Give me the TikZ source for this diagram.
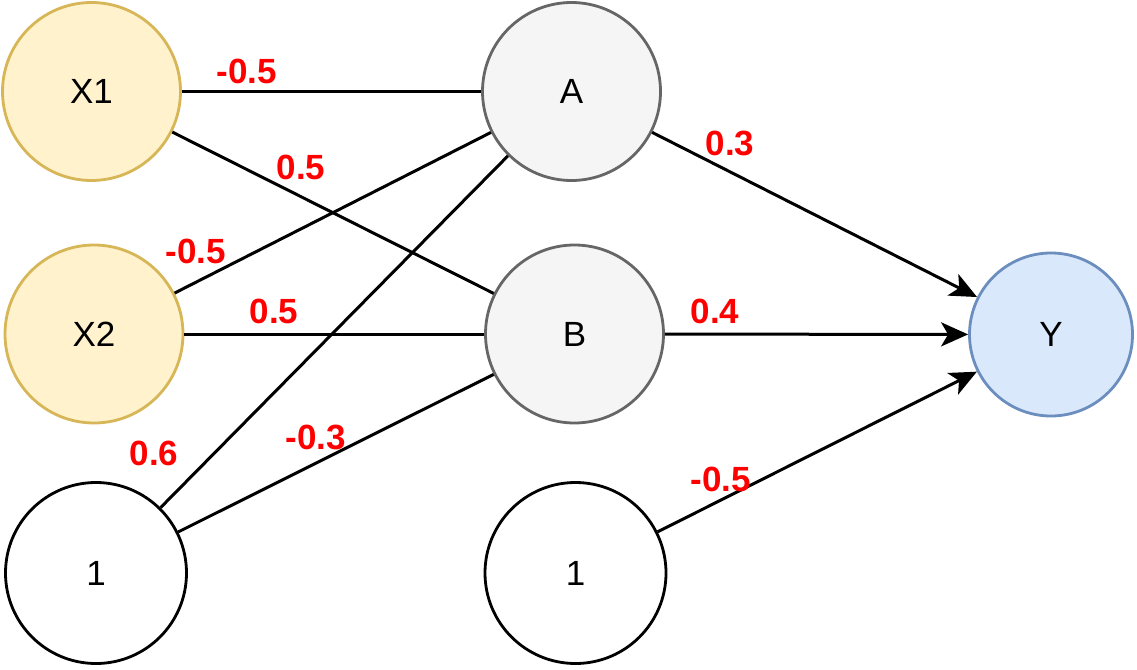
\documentclass[tikz,border=0pt]{standalone}
\usepackage{fontspec}
\setmainfont{Liberation Sans}
\usetikzlibrary{arrows.meta}
\definecolor{inFill}{HTML}{FFF2CC}
\definecolor{inLine}{HTML}{D6B656}
\definecolor{hidFill}{HTML}{F5F5F5}
\definecolor{hidLine}{HTML}{666666}
\definecolor{outFill}{HTML}{DAE8FC}
\definecolor{outLine}{HTML}{6C8EBF}
\definecolor{weightRed}{HTML}{FF0000}
\begin{document}
\begin{tikzpicture}[x=1pt,y=-1pt,
  neuron/.style={circle, draw, line width=2.8pt, inner sep=0pt,
    font=\fontsize{35}{42}\selectfont},
  inputn/.style={neuron, fill=inFill, draw=inLine, minimum size=178pt},
  hiddenn/.style={neuron, fill=hidFill, draw=hidLine, minimum size=178pt},
  biasn/.style={neuron, fill=white, draw=black, minimum size=181pt},
  outputn/.style={neuron, fill=outFill, draw=outLine, minimum size=163pt},
  link/.style={line width=3pt, draw=black},
  arrowlink/.style={link, -{Stealth[length=27pt, width=24pt, inset=7pt]}},
  weight/.style={text=weightRed, inner sep=0pt,
    font=\fontsize{35}{42}\selectfont\bfseries}
]
\useasboundingbox (0,0) rectangle (1137,669);

% neurons
\node[inputn]  (x1) at (91.5,91.5) {X1};
\node[inputn]  (x2) at (94,334)    {X2};
\node[biasn]   (b1) at (96,573)    {1};
\node[hiddenn] (a)  at (571.5,91.5) {A};
\node[hiddenn] (b)  at (574.5,334) {B};
\node[biasn]   (b2) at (575.5,573) {1};
\node[outputn] (y)  at (1051,334.5) {Y};

% input to hidden connections
\draw[link] (x1) -- (a);
\draw[link] (x1) -- (b);
\draw[link] (x2) -- (a);
\draw[link] (x2) -- (b);
\draw[link] (b1) -- (a);
\draw[link] (b1) -- (b);

% hidden to output connections
\draw[arrowlink] (a)  -- (y);
\draw[arrowlink] (b)  -- (y);
\draw[arrowlink] (b2) -- (y);

% weights
\node[weight] (w1) at (247,71)  {-0.5};
\node[weight] (w2) at (301,167) {0.5};
\node[weight] (w3) at (196,251) {-0.5};
\node[weight] (w4) at (274,311) {0.5};
\node[weight] (w5) at (154,453) {0.6};
\node[weight] (w6) at (316,437) {-0.3};
\node[weight] (w7) at (730,143) {0.3};
\node[weight] (w8) at (715,311) {0.4};
\node[weight] (w9) at (721,479) {-0.5};
\end{tikzpicture}
\end{document}
